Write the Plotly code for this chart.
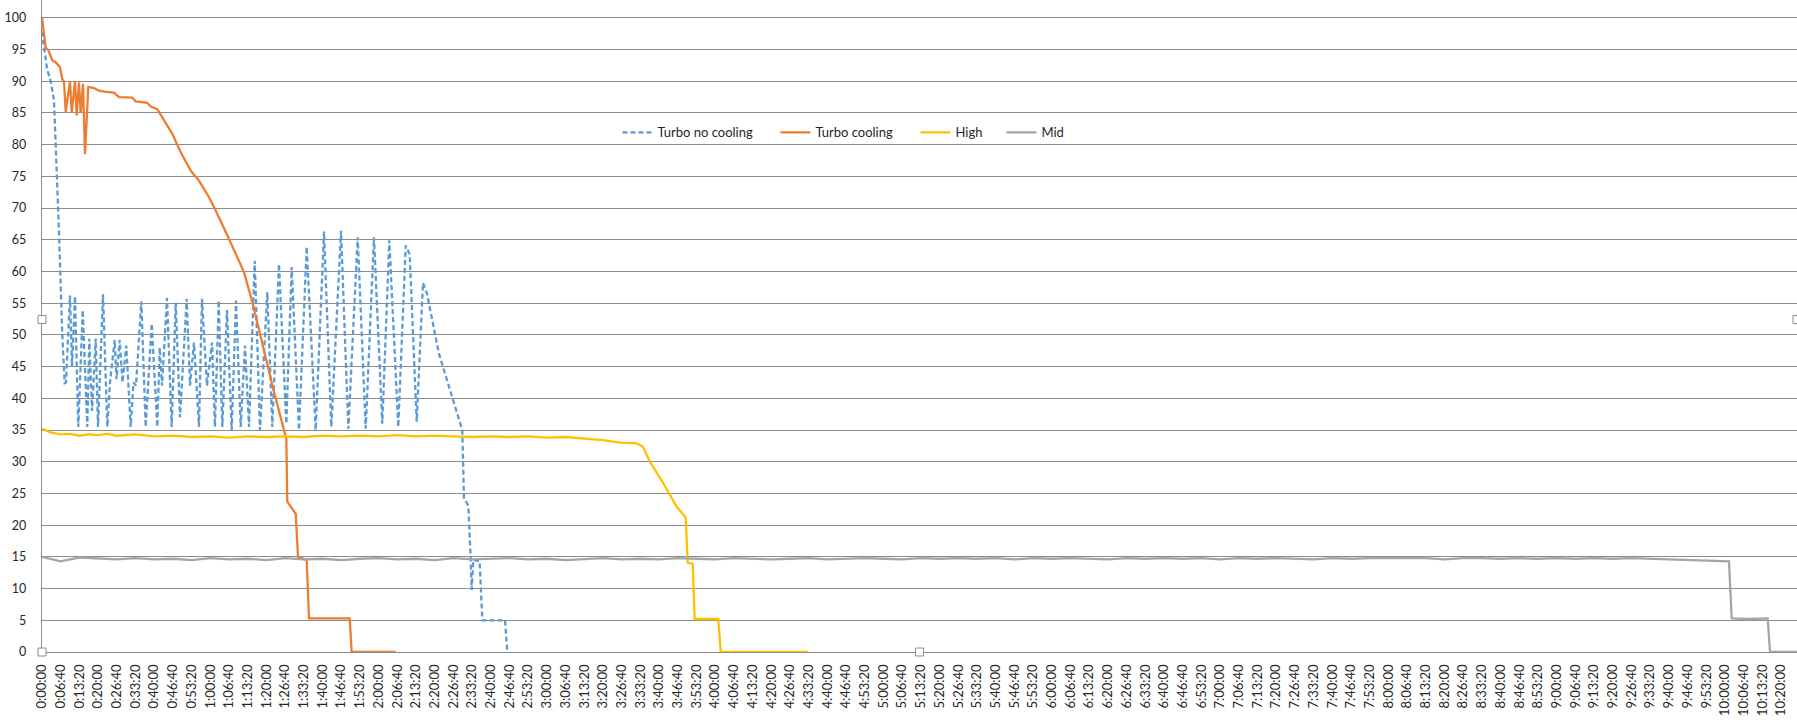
import plotly.graph_objects as go

# seconds since start
blue_t = [0, 107, 186, 257, 364, 434, 486, 513, 599, 642, 706, 776, 871, 969, 1012,
          1070, 1149, 1198, 1305, 1397, 1455, 1555, 1594, 1662, 1722, 1803, 1897, 1957,
          2011, 2124, 2218, 2347, 2466, 2518, 2567, 2674, 2774, 2860, 2952, 3095, 3166,
          3251, 3358, 3422, 3529, 3636, 3700, 3780, 3857, 3957, 4058, 4150, 4250, 4342,
          4428, 4550, 4663, 4819, 4926, 5069, 5226, 5341, 5497, 5662, 5854, 6032, 6188,
          6396, 6552, 6753, 6924, 7101, 7279, 7429, 7621, 7780, 7865, 8015, 8150, 8235,
          8492, 8669, 8956, 8990, 9027, 9119, 9170, 9191, 9225, 9362, 9418, 9904, 9953]
blue_v = [97.8, 92, 90, 87, 66, 50, 42.4, 42.5, 56.2, 45, 56.1, 35.5, 53.9, 35.5, 49.4,
          38, 49.4, 35.5, 56.4, 35.5, 42.5, 49.2, 43, 49.2, 42.5, 48.3, 35.5, 42.5,
          42, 55.3, 35.5, 51.8, 35.5, 48, 42, 55.8, 35.5, 55.1, 37, 55.7, 42,
          48.8, 35.5, 55.7, 42, 48.8, 35.5, 55.4, 35.5, 53.9, 35, 55.4, 35.5, 48.3,
          35.5, 61.7, 35, 56.7, 35.5, 61.2, 36, 60.7, 35, 63.9, 35, 66.3, 35.5,
          66.4, 35.2, 65.4, 35.2, 65.4, 36, 64.9, 35.5, 64.1, 62.7, 36.3, 58.2, 56.5,
          47, 42.8, 36, 35, 24.2, 23.1, 14.75, 9.8, 14.5, 14.3, 5, 5, 0]

orange_t = [0, 28, 79, 135, 220, 293, 385, 434, 471, 507, 599, 635, 706, 742, 791, 828,
            877, 920, 990, 1112, 1219, 1363, 1540, 1647, 1932, 2004, 2252, 2325, 2466,
            2787, 2967, 3181, 3358, 3572, 3715, 4000, 4321, 4498, 4678, 4856, 4963, 5226,
            5247, 5427, 5476, 5662, 5711, 6582, 6624, 7566]
orange_v = [100, 98, 95.3, 94.9, 93.3, 93, 92.2, 90.3, 90, 85.1, 90, 85, 90, 84.6, 89.8, 85,
            89.6, 78.5, 89.1, 88.9, 88.5, 88.3, 88.2, 87.5, 87.4, 86.8, 86.6, 86, 85.6,
            81.7, 78.8, 75.9, 74.3, 71.7, 69.6, 65.1, 59.9, 55.2, 49.7, 44.4, 41, 33.6,
            23.7, 21.8, 15, 14.5, 5.3, 5.3, 0, 0]

high_t = [0, 200, 400, 600, 800, 1000, 1200, 1400, 1600, 1800, 2000, 2400, 2800, 3200,
          3600, 4000, 4400, 4800, 5200, 5600, 6000, 6400, 6800, 7200, 7600, 8000, 8400,
          8800, 9200, 9600, 10000, 10400, 10800, 11200, 11600, 12000, 12363, 12720, 12849,
          13005, 13290, 13576, 13769, 13812, 13919, 13961, 14466, 14518, 16392]
high_v = [35.2, 34.6, 34.3, 34.4, 34.1, 34.3, 34.2, 34.4, 34.1, 34.2, 34.3, 34.0, 34.1, 33.9,
          34.0, 33.8, 34.0, 33.9, 34.0, 33.9, 34.1, 34.0, 34.1, 34.0, 34.2, 34.0, 34.1,
          34.0, 33.9, 34.0, 33.9, 34.0, 33.8, 33.9, 33.7, 33.4, 33.0, 32.9, 32.4,
          30.0, 26.6, 22.9, 21.2, 14.1, 13.9, 5.2, 5.2, 0, 0]

mid_t = [0, 400, 800, 1200, 1600, 2000, 2400, 2800, 3200, 3600, 4000, 4400, 4800, 5200,
         5600, 6000, 6400, 6800, 7200, 7600, 8000, 8400, 8800, 9200, 9600, 10000, 10400,
         10800, 11200, 11600, 12000, 12400, 12800, 13200, 13600, 14000, 14400, 14800,
         15200, 15600, 16000, 16400, 16800, 17200, 17600, 18000, 18400, 18800, 19200,
         19600, 20000, 20400, 20800, 21200, 21600, 22000, 22400, 22800, 23200, 23600,
         24000, 24400, 24800, 25200, 25600, 26000, 26400, 26800, 27200, 27600, 28000,
         28400, 28800, 29200, 29600, 30000, 30400, 30800, 31200, 31600, 32000, 32400,
         32800, 33200, 33600, 34000, 34400, 34800, 35200, 35600, 36000, 36085, 36143,
         36500, 36913, 36963, 37540]
mid_v = [15.0, 14.3, 14.9, 14.7, 14.6, 14.8, 14.6, 14.7, 14.5, 14.8, 14.6, 14.7, 14.5, 14.8,
         14.6, 14.7, 14.5, 14.7, 14.8, 14.6, 14.7, 14.5, 14.8, 14.6, 14.7, 14.8, 14.6,
         14.7, 14.5, 14.7, 14.8, 14.6, 14.7, 14.6, 14.8, 14.7, 14.6, 14.8,
         14.7, 14.6, 14.7, 14.8, 14.6, 14.7, 14.8, 14.7, 14.6, 14.8, 14.7,
         14.8, 14.7, 14.8, 14.6, 14.8, 14.7, 14.8, 14.7, 14.6, 14.8, 14.7,
         14.8, 14.7, 14.8, 14.6, 14.8, 14.7, 14.8, 14.7, 14.6, 14.8, 14.7,
         14.8, 14.8, 14.7, 14.8, 14.6, 14.8, 14.8, 14.7, 14.8, 14.7, 14.8,
         14.7, 14.8, 14.7, 14.8, 14.7, 14.6, 14.6, 14.5, 14.3, 14.3, 5.3,
         5.2, 5.3, 0, 0]


def hms(s):
    return f"{s // 3600}:{s % 3600 // 60:02d}:{s % 60:02d}"


tick_vals = list(range(0, 37201, 400))
tick_text = [hms(s) for s in tick_vals]

fig = go.Figure()
fig.add_trace(go.Scatter(x=blue_t, y=blue_v, mode='lines', name='Turbo no cooling', legend='legend',
                         line=dict(color='#5B9BD5', width=2.3, dash='5px,3px')))
fig.add_trace(go.Scatter(x=orange_t, y=orange_v, mode='lines', name='Turbo cooling', legend='legend2',
                         line=dict(color='#ED7D31', width=2.3)))
fig.add_trace(go.Scatter(x=high_t, y=high_v, mode='lines', name='High', legend='legend3',
                         line=dict(color='#FFC000', width=2.3)))
fig.add_trace(go.Scatter(x=mid_t, y=mid_v, mode='lines', name='Mid', legend='legend4',
                         line=dict(color='#A5A5A5', width=2.3)))

# Excel plot-area selection handles
handles = [(0, 0), (0.5, 0), (0, 0.51), (1, 0.51)]
shapes = [dict(type='rect', xref='paper', yref='paper', xsizemode='pixel', ysizemode='pixel',
               xanchor=hx, yanchor=hy, x0=-4, x1=4, y0=-4, y1=4,
               fillcolor='white', line=dict(color='#8c8c8c', width=1), layer='above')
          for hx, hy in handles]

# one legend box per entry so the spacing follows the Excel legend
leg = dict(orientation='h', xanchor='left', y=0.797, yanchor='middle',
           bgcolor='rgba(0,0,0,0)', font=dict(size=13), itemwidth=30)

fig.update_layout(
    width=1797, height=726, autosize=False,
    margin=dict(l=42, r=0, t=0, b=74),
    plot_bgcolor='white', paper_bgcolor='white',
    font=dict(family='Lato', size=12, color='#262626'),
    showlegend=True,
    legend=dict(leg, x=0.3279),
    legend2=dict(leg, x=0.4179),
    legend3=dict(leg, x=0.4977),
    legend4=dict(leg, x=0.5467),
    shapes=shapes,
    xaxis=dict(range=[0, 37540], tickvals=tick_vals, ticktext=tick_text, tickangle=-90,
               showgrid=False, zeroline=False, showline=True, linecolor='#8c8c8c', linewidth=1.3,
               ticks='', ticklabelstandoff=6, tickfont=dict(size=13)),
    yaxis=dict(range=[0, 102.8], tickvals=list(range(0, 101, 5)), showgrid=True,
               gridcolor='#8c8c8c', gridwidth=1.3, zeroline=False, showline=True,
               linecolor='#8c8c8c', linewidth=1.3, ticks='', ticklabelstandoff=12,
               tickfont=dict(size=12.5)),
)

fig.write_html("out.html", config={'displayModeBar': False},
               post_script="document.body.style.margin='0';")
